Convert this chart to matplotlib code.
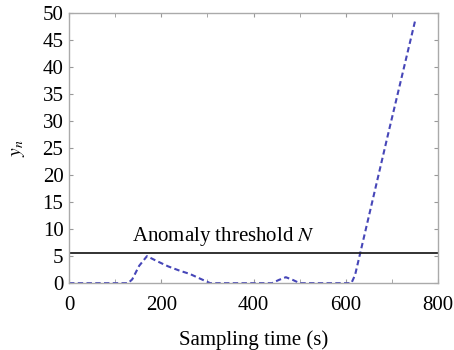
import matplotlib
matplotlib.use("Agg")
import matplotlib.pyplot as plt
from matplotlib.ticker import MultipleLocator

t = [0, 60, 128, 137, 152, 169, 190, 215, 240, 262, 285, 306, 360, 440, 455, 470, 485, 500, 560, 612, 620, 631, 690, 750]
yn = [0, 0, 0, 0.7, 3.2, 5.0, 4.1, 3.1, 2.3, 1.7, 0.8, 0, 0, 0, 0.6, 1.1, 0.6, 0, 0, 0, 1.5, 5.5, 27.0, 48.5]
threshold = 5.5
xticks = [0, 200, 400, 600, 800]
yticks = [0, 5, 10, 15, 20, 25, 30, 35, 40, 45, 50]

plt.rcParams['font.family'] = ['Liberation Serif', 'DejaVu Serif']
plt.rcParams['mathtext.fontset'] = 'stix'

fig = plt.figure(figsize=(4.54, 3.5), dpi=100)
ax = fig.add_axes([0.152, 0.191, 0.813, 0.772])

ax.plot(t, yn, color='#4646b8', linestyle=(0, (2.6, 1.6)), linewidth=1.5)
ax.axhline(threshold, color='#222222', linewidth=1.3)
ax.text(137, threshold + 1.0, 'Anomaly threshold $\\mathit{N}$', fontsize=15, ha='left', va='bottom')

ax.set_xlim(0, 800)
ax.set_ylim(0, 50)
ax.set_xticks(xticks)
ax.set_yticks(yticks)
ax.xaxis.set_minor_locator(MultipleLocator(100))
ax.tick_params(axis='both', which='both', direction='in', top=True, right=True,
               color='#999999', labelsize=15)
ax.tick_params(axis='x', pad=9)
ax.tick_params(axis='y', pad=4)
ax.tick_params(which='major', length=3)
ax.tick_params(which='minor', length=3)
for s in ax.spines.values():
    s.set_color('#aaaaaa')
    s.set_linewidth(1.0)

ax.set_xlabel('Sampling time (s)', fontsize=15, labelpad=11)
ax.set_ylabel('$y_n$', fontsize=14, labelpad=11)

fig.savefig('out.png', dpi=100)
